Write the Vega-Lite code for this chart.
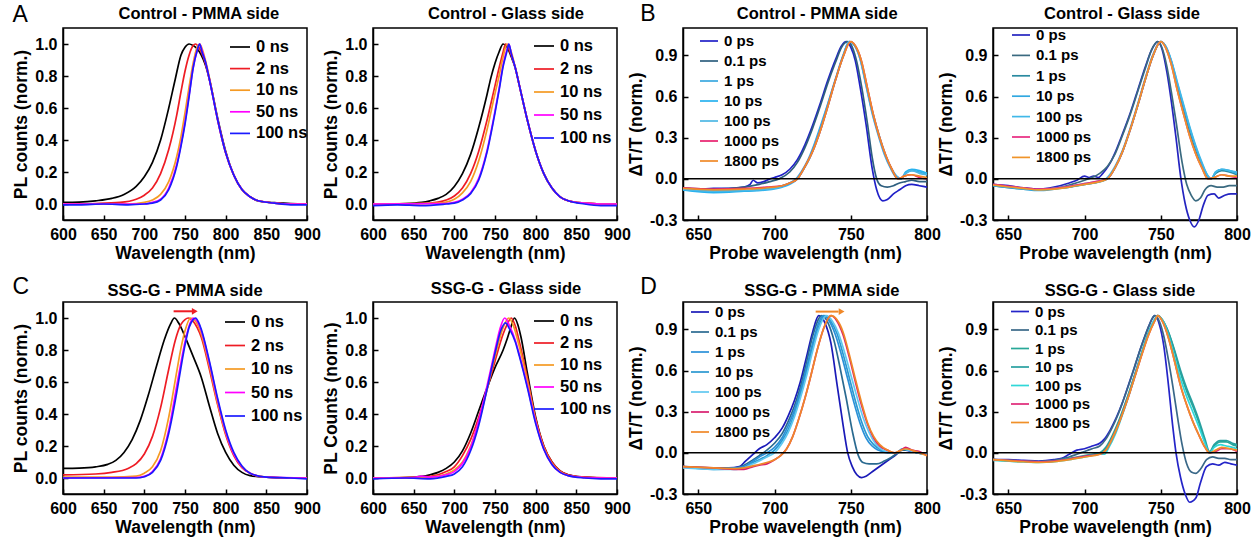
{
"$schema":"https://vega.github.io/schema/vega-lite/v6.json",
"padding":{"left":11,"top":2,"right":5,"bottom":5},
"config":{
 "font":"Liberation Sans",
 "view":{"stroke":"#000","strokeWidth":1.5},
 "axis":{"labelFont":"Liberation Sans","labelFontSize":16,"labelFontWeight":"bold","labelColor":"#000","titleFont":"Liberation Sans","titleFontSize":17.5,"titleFontWeight":"bold","titleColor":"#000","domainColor":"#000","domainWidth":1.5,"tickColor":"#000","tickWidth":1.5,"tickSize":-5,"labelPadding":11,"grid":false,"labelFlush":false,"labelOverlap":false,"labelBound":false},
 "axisY":{"titlePadding":4},
 "axisX":{"titlePadding":2},
 "legend":{"labelFont":"Liberation Sans","labelFontWeight":"bold","labelColor":"#000","symbolType":"stroke","symbolStrokeWidth":2,"labelOffset":5,"padding":0,"orient":"none","direction":"vertical"},
 "line":{"interpolate":"monotone","strokeWidth":1.7,"clip":true},
 "text":{"font":"Liberation Sans","color":"#000"}
},
"datasets":{
"a1":[
{"s":"0 ns","x":600,"y":0.01},{"s":"0 ns","x":620,"y":0.012},{"s":"0 ns","x":640,"y":0.02},{"s":"0 ns","x":660,"y":0.035},{"s":"0 ns","x":675,"y":0.06},{"s":"0 ns","x":690,"y":0.11},{"s":"0 ns","x":700,"y":0.17},{"s":"0 ns","x":710,"y":0.26},{"s":"0 ns","x":720,"y":0.4},{"s":"0 ns","x":730,"y":0.6},{"s":"0 ns","x":738,"y":0.78},{"s":"0 ns","x":745,"y":0.93},{"s":"0 ns","x":750,"y":0.98},{"s":"0 ns","x":755,"y":1},{"s":"0 ns","x":760,"y":0.99},{"s":"0 ns","x":765,"y":0.97},{"s":"0 ns","x":770,"y":0.93},{"s":"0 ns","x":775,"y":0.87},{"s":"0 ns","x":780,"y":0.78},{"s":"0 ns","x":790,"y":0.54},{"s":"0 ns","x":800,"y":0.33},{"s":"0 ns","x":810,"y":0.18},{"s":"0 ns","x":820,"y":0.09},{"s":"0 ns","x":830,"y":0.045},{"s":"0 ns","x":840,"y":0.02},{"s":"0 ns","x":860,"y":0.008},{"s":"0 ns","x":880,"y":0.003},{"s":"0 ns","x":900,"y":0},
{"s":"2 ns","x":600,"y":0},{"s":"2 ns","x":640,"y":0.003},{"s":"2 ns","x":670,"y":0.01},{"s":"2 ns","x":690,"y":0.03},{"s":"2 ns","x":700,"y":0.055},{"s":"2 ns","x":710,"y":0.1},{"s":"2 ns","x":720,"y":0.19},{"s":"2 ns","x":730,"y":0.34},{"s":"2 ns","x":740,"y":0.56},{"s":"2 ns","x":745,"y":0.7},{"s":"2 ns","x":750,"y":0.83},{"s":"2 ns","x":755,"y":0.93},{"s":"2 ns","x":760,"y":0.99},{"s":"2 ns","x":763,"y":1},{"s":"2 ns","x":767,"y":0.98},{"s":"2 ns","x":770,"y":0.95},{"s":"2 ns","x":775,"y":0.88},{"s":"2 ns","x":780,"y":0.78},{"s":"2 ns","x":790,"y":0.53},{"s":"2 ns","x":800,"y":0.32},{"s":"2 ns","x":810,"y":0.18},{"s":"2 ns","x":820,"y":0.09},{"s":"2 ns","x":830,"y":0.045},{"s":"2 ns","x":840,"y":0.02},{"s":"2 ns","x":860,"y":0.006},{"s":"2 ns","x":880,"y":0},{"s":"2 ns","x":900,"y":0},
{"s":"10 ns","x":600,"y":0},{"s":"10 ns","x":680,"y":0},{"s":"10 ns","x":700,"y":0.01},{"s":"10 ns","x":710,"y":0.025},{"s":"10 ns","x":720,"y":0.06},{"s":"10 ns","x":730,"y":0.14},{"s":"10 ns","x":740,"y":0.3},{"s":"10 ns","x":745,"y":0.42},{"s":"10 ns","x":750,"y":0.57},{"s":"10 ns","x":755,"y":0.73},{"s":"10 ns","x":760,"y":0.88},{"s":"10 ns","x":765,"y":0.98},{"s":"10 ns","x":768,"y":1},{"s":"10 ns","x":771,"y":0.97},{"s":"10 ns","x":775,"y":0.9},{"s":"10 ns","x":780,"y":0.79},{"s":"10 ns","x":790,"y":0.53},{"s":"10 ns","x":800,"y":0.32},{"s":"10 ns","x":810,"y":0.18},{"s":"10 ns","x":820,"y":0.09},{"s":"10 ns","x":830,"y":0.045},{"s":"10 ns","x":840,"y":0.02},{"s":"10 ns","x":860,"y":0.006},{"s":"10 ns","x":880,"y":0},{"s":"10 ns","x":900,"y":0},
{"s":"50 ns","x":600,"y":0},{"s":"50 ns","x":700,"y":0},{"s":"50 ns","x":710,"y":0.01},{"s":"50 ns","x":720,"y":0.03},{"s":"50 ns","x":730,"y":0.1},{"s":"50 ns","x":740,"y":0.25},{"s":"50 ns","x":745,"y":0.37},{"s":"50 ns","x":750,"y":0.51},{"s":"50 ns","x":755,"y":0.68},{"s":"50 ns","x":760,"y":0.85},{"s":"50 ns","x":765,"y":0.96},{"s":"50 ns","x":768,"y":1},{"s":"50 ns","x":771,"y":0.96},{"s":"50 ns","x":775,"y":0.89},{"s":"50 ns","x":780,"y":0.78},{"s":"50 ns","x":790,"y":0.53},{"s":"50 ns","x":800,"y":0.32},{"s":"50 ns","x":810,"y":0.18},{"s":"50 ns","x":820,"y":0.09},{"s":"50 ns","x":830,"y":0.045},{"s":"50 ns","x":840,"y":0.02},{"s":"50 ns","x":860,"y":0.006},{"s":"50 ns","x":880,"y":0},{"s":"50 ns","x":900,"y":0},
{"s":"100 ns","x":600,"y":-0.005},{"s":"100 ns","x":620,"y":-0.005},{"s":"100 ns","x":650,"y":0},{"s":"100 ns","x":680,"y":-0.005},{"s":"100 ns","x":700,"y":0},{"s":"100 ns","x":710,"y":0.005},{"s":"100 ns","x":720,"y":0.025},{"s":"100 ns","x":730,"y":0.09},{"s":"100 ns","x":740,"y":0.24},{"s":"100 ns","x":745,"y":0.36},{"s":"100 ns","x":750,"y":0.5},{"s":"100 ns","x":755,"y":0.67},{"s":"100 ns","x":760,"y":0.85},{"s":"100 ns","x":765,"y":0.96},{"s":"100 ns","x":768,"y":1},{"s":"100 ns","x":771,"y":0.95},{"s":"100 ns","x":775,"y":0.89},{"s":"100 ns","x":780,"y":0.78},{"s":"100 ns","x":790,"y":0.53},{"s":"100 ns","x":800,"y":0.32},{"s":"100 ns","x":810,"y":0.18},{"s":"100 ns","x":820,"y":0.09},{"s":"100 ns","x":830,"y":0.045},{"s":"100 ns","x":840,"y":0.02},{"s":"100 ns","x":860,"y":0.005},{"s":"100 ns","x":880,"y":-0.005},{"s":"100 ns","x":900,"y":-0.005}
],
"a2":[
{"s":"0 ns","x":600,"y":0},{"s":"0 ns","x":640,"y":0.003},{"s":"0 ns","x":660,"y":0.01},{"s":"0 ns","x":670,"y":0.02},{"s":"0 ns","x":680,"y":0.035},{"s":"0 ns","x":690,"y":0.06},{"s":"0 ns","x":700,"y":0.11},{"s":"0 ns","x":710,"y":0.19},{"s":"0 ns","x":720,"y":0.31},{"s":"0 ns","x":730,"y":0.48},{"s":"0 ns","x":740,"y":0.68},{"s":"0 ns","x":745,"y":0.79},{"s":"0 ns","x":750,"y":0.88},{"s":"0 ns","x":755,"y":0.95},{"s":"0 ns","x":760,"y":1},{"s":"0 ns","x":765,"y":0.98},{"s":"0 ns","x":770,"y":0.92},{"s":"0 ns","x":775,"y":0.85},{"s":"0 ns","x":780,"y":0.74},{"s":"0 ns","x":790,"y":0.52},{"s":"0 ns","x":800,"y":0.33},{"s":"0 ns","x":810,"y":0.19},{"s":"0 ns","x":820,"y":0.1},{"s":"0 ns","x":830,"y":0.045},{"s":"0 ns","x":840,"y":0.02},{"s":"0 ns","x":860,"y":0.005},{"s":"0 ns","x":880,"y":0},{"s":"0 ns","x":900,"y":0},
{"s":"2 ns","x":600,"y":0},{"s":"2 ns","x":660,"y":0.003},{"s":"2 ns","x":680,"y":0.012},{"s":"2 ns","x":690,"y":0.025},{"s":"2 ns","x":700,"y":0.05},{"s":"2 ns","x":710,"y":0.1},{"s":"2 ns","x":720,"y":0.19},{"s":"2 ns","x":730,"y":0.33},{"s":"2 ns","x":740,"y":0.52},{"s":"2 ns","x":750,"y":0.74},{"s":"2 ns","x":755,"y":0.85},{"s":"2 ns","x":760,"y":0.95},{"s":"2 ns","x":763,"y":1},{"s":"2 ns","x":767,"y":0.97},{"s":"2 ns","x":770,"y":0.93},{"s":"2 ns","x":775,"y":0.85},{"s":"2 ns","x":780,"y":0.74},{"s":"2 ns","x":790,"y":0.52},{"s":"2 ns","x":800,"y":0.33},{"s":"2 ns","x":810,"y":0.19},{"s":"2 ns","x":820,"y":0.1},{"s":"2 ns","x":830,"y":0.045},{"s":"2 ns","x":840,"y":0.02},{"s":"2 ns","x":860,"y":0.005},{"s":"2 ns","x":880,"y":0},{"s":"2 ns","x":900,"y":0},
{"s":"10 ns","x":600,"y":0},{"s":"10 ns","x":680,"y":0.005},{"s":"10 ns","x":690,"y":0.012},{"s":"10 ns","x":700,"y":0.03},{"s":"10 ns","x":710,"y":0.07},{"s":"10 ns","x":720,"y":0.14},{"s":"10 ns","x":730,"y":0.27},{"s":"10 ns","x":740,"y":0.46},{"s":"10 ns","x":750,"y":0.69},{"s":"10 ns","x":755,"y":0.8},{"s":"10 ns","x":760,"y":0.92},{"s":"10 ns","x":765,"y":1},{"s":"10 ns","x":770,"y":0.95},{"s":"10 ns","x":775,"y":0.85},{"s":"10 ns","x":780,"y":0.74},{"s":"10 ns","x":790,"y":0.52},{"s":"10 ns","x":800,"y":0.33},{"s":"10 ns","x":810,"y":0.19},{"s":"10 ns","x":820,"y":0.1},{"s":"10 ns","x":830,"y":0.045},{"s":"10 ns","x":840,"y":0.02},{"s":"10 ns","x":860,"y":0.005},{"s":"10 ns","x":880,"y":0},{"s":"10 ns","x":900,"y":0},
{"s":"50 ns","x":600,"y":0},{"s":"50 ns","x":690,"y":0.003},{"s":"50 ns","x":700,"y":0.01},{"s":"50 ns","x":710,"y":0.03},{"s":"50 ns","x":720,"y":0.07},{"s":"50 ns","x":730,"y":0.16},{"s":"50 ns","x":740,"y":0.33},{"s":"50 ns","x":750,"y":0.58},{"s":"50 ns","x":755,"y":0.72},{"s":"50 ns","x":760,"y":0.87},{"s":"50 ns","x":765,"y":0.97},{"s":"50 ns","x":767,"y":1},{"s":"50 ns","x":770,"y":0.94},{"s":"50 ns","x":775,"y":0.85},{"s":"50 ns","x":780,"y":0.74},{"s":"50 ns","x":790,"y":0.52},{"s":"50 ns","x":800,"y":0.33},{"s":"50 ns","x":810,"y":0.19},{"s":"50 ns","x":820,"y":0.1},{"s":"50 ns","x":830,"y":0.045},{"s":"50 ns","x":840,"y":0.02},{"s":"50 ns","x":860,"y":0.005},{"s":"50 ns","x":880,"y":0},{"s":"50 ns","x":900,"y":0},
{"s":"100 ns","x":600,"y":-0.01},{"s":"100 ns","x":630,"y":-0.005},{"s":"100 ns","x":660,"y":-0.01},{"s":"100 ns","x":690,"y":0},{"s":"100 ns","x":700,"y":0.005},{"s":"100 ns","x":710,"y":0.025},{"s":"100 ns","x":720,"y":0.065},{"s":"100 ns","x":730,"y":0.15},{"s":"100 ns","x":740,"y":0.32},{"s":"100 ns","x":750,"y":0.57},{"s":"100 ns","x":755,"y":0.71},{"s":"100 ns","x":760,"y":0.86},{"s":"100 ns","x":765,"y":0.96},{"s":"100 ns","x":767,"y":1},{"s":"100 ns","x":770,"y":0.94},{"s":"100 ns","x":775,"y":0.85},{"s":"100 ns","x":780,"y":0.74},{"s":"100 ns","x":790,"y":0.52},{"s":"100 ns","x":800,"y":0.33},{"s":"100 ns","x":810,"y":0.19},{"s":"100 ns","x":820,"y":0.1},{"s":"100 ns","x":830,"y":0.045},{"s":"100 ns","x":840,"y":0.02},{"s":"100 ns","x":860,"y":0},{"s":"100 ns","x":880,"y":-0.01},{"s":"100 ns","x":900,"y":-0.01}
],
"c1":[
{"s":"0 ns","x":600,"y":0.06},{"s":"0 ns","x":620,"y":0.062},{"s":"0 ns","x":640,"y":0.07},{"s":"0 ns","x":655,"y":0.085},{"s":"0 ns","x":665,"y":0.11},{"s":"0 ns","x":675,"y":0.16},{"s":"0 ns","x":685,"y":0.24},{"s":"0 ns","x":695,"y":0.36},{"s":"0 ns","x":705,"y":0.52},{"s":"0 ns","x":715,"y":0.7},{"s":"0 ns","x":725,"y":0.87},{"s":"0 ns","x":732,"y":0.96},{"s":"0 ns","x":737,"y":1},{"s":"0 ns","x":742,"y":0.97},{"s":"0 ns","x":747,"y":0.92},{"s":"0 ns","x":752,"y":0.86},{"s":"0 ns","x":760,"y":0.76},{"s":"0 ns","x":770,"y":0.63},{"s":"0 ns","x":780,"y":0.45},{"s":"0 ns","x":790,"y":0.28},{"s":"0 ns","x":800,"y":0.16},{"s":"0 ns","x":810,"y":0.08},{"s":"0 ns","x":820,"y":0.035},{"s":"0 ns","x":830,"y":0.015},{"s":"0 ns","x":850,"y":0.005},{"s":"0 ns","x":870,"y":0},{"s":"0 ns","x":900,"y":0},
{"s":"2 ns","x":600,"y":0.02},{"s":"2 ns","x":640,"y":0.025},{"s":"2 ns","x":660,"y":0.035},{"s":"2 ns","x":680,"y":0.06},{"s":"2 ns","x":690,"y":0.09},{"s":"2 ns","x":700,"y":0.15},{"s":"2 ns","x":710,"y":0.26},{"s":"2 ns","x":720,"y":0.44},{"s":"2 ns","x":730,"y":0.68},{"s":"2 ns","x":738,"y":0.86},{"s":"2 ns","x":745,"y":0.96},{"s":"2 ns","x":750,"y":0.99},{"s":"2 ns","x":754,"y":1},{"s":"2 ns","x":760,"y":0.98},{"s":"2 ns","x":765,"y":0.94},{"s":"2 ns","x":770,"y":0.88},{"s":"2 ns","x":780,"y":0.68},{"s":"2 ns","x":790,"y":0.46},{"s":"2 ns","x":800,"y":0.27},{"s":"2 ns","x":810,"y":0.14},{"s":"2 ns","x":820,"y":0.065},{"s":"2 ns","x":830,"y":0.03},{"s":"2 ns","x":840,"y":0.012},{"s":"2 ns","x":860,"y":0.003},{"s":"2 ns","x":880,"y":0},{"s":"2 ns","x":900,"y":0},
{"s":"10 ns","x":600,"y":0.005},{"s":"10 ns","x":660,"y":0.005},{"s":"10 ns","x":690,"y":0.012},{"s":"10 ns","x":700,"y":0.03},{"s":"10 ns","x":710,"y":0.07},{"s":"10 ns","x":720,"y":0.17},{"s":"10 ns","x":730,"y":0.38},{"s":"10 ns","x":740,"y":0.67},{"s":"10 ns","x":745,"y":0.81},{"s":"10 ns","x":750,"y":0.92},{"s":"10 ns","x":757,"y":1},{"s":"10 ns","x":763,"y":0.98},{"s":"10 ns","x":770,"y":0.9},{"s":"10 ns","x":780,"y":0.7},{"s":"10 ns","x":790,"y":0.47},{"s":"10 ns","x":800,"y":0.28},{"s":"10 ns","x":810,"y":0.15},{"s":"10 ns","x":820,"y":0.07},{"s":"10 ns","x":830,"y":0.03},{"s":"10 ns","x":840,"y":0.012},{"s":"10 ns","x":860,"y":0.003},{"s":"10 ns","x":900,"y":0},
{"s":"50 ns","x":600,"y":0},{"s":"50 ns","x":690,"y":0.003},{"s":"50 ns","x":700,"y":0.01},{"s":"50 ns","x":710,"y":0.04},{"s":"50 ns","x":720,"y":0.12},{"s":"50 ns","x":730,"y":0.3},{"s":"50 ns","x":740,"y":0.58},{"s":"50 ns","x":745,"y":0.72},{"s":"50 ns","x":750,"y":0.85},{"s":"50 ns","x":755,"y":0.95},{"s":"50 ns","x":760,"y":1},{"s":"50 ns","x":765,"y":0.98},{"s":"50 ns","x":770,"y":0.92},{"s":"50 ns","x":780,"y":0.72},{"s":"50 ns","x":790,"y":0.49},{"s":"50 ns","x":800,"y":0.29},{"s":"50 ns","x":810,"y":0.15},{"s":"50 ns","x":820,"y":0.07},{"s":"50 ns","x":830,"y":0.03},{"s":"50 ns","x":850,"y":0.005},{"s":"50 ns","x":900,"y":0},
{"s":"100 ns","x":600,"y":0},{"s":"100 ns","x":650,"y":0},{"s":"100 ns","x":690,"y":0},{"s":"100 ns","x":700,"y":0.008},{"s":"100 ns","x":710,"y":0.035},{"s":"100 ns","x":720,"y":0.11},{"s":"100 ns","x":730,"y":0.28},{"s":"100 ns","x":740,"y":0.54},{"s":"100 ns","x":745,"y":0.69},{"s":"100 ns","x":750,"y":0.83},{"s":"100 ns","x":755,"y":0.94},{"s":"100 ns","x":760,"y":0.99},{"s":"100 ns","x":763,"y":1},{"s":"100 ns","x":767,"y":0.97},{"s":"100 ns","x":770,"y":0.93},{"s":"100 ns","x":780,"y":0.73},{"s":"100 ns","x":790,"y":0.5},{"s":"100 ns","x":800,"y":0.3},{"s":"100 ns","x":810,"y":0.16},{"s":"100 ns","x":820,"y":0.075},{"s":"100 ns","x":830,"y":0.03},{"s":"100 ns","x":850,"y":0.005},{"s":"100 ns","x":880,"y":0},{"s":"100 ns","x":900,"y":-0.005}
],
"c2":[
{"s":"0 ns","x":600,"y":0},{"s":"0 ns","x":640,"y":0.003},{"s":"0 ns","x":660,"y":0.01},{"s":"0 ns","x":670,"y":0.02},{"s":"0 ns","x":680,"y":0.035},{"s":"0 ns","x":690,"y":0.06},{"s":"0 ns","x":700,"y":0.1},{"s":"0 ns","x":710,"y":0.17},{"s":"0 ns","x":720,"y":0.28},{"s":"0 ns","x":730,"y":0.42},{"s":"0 ns","x":740,"y":0.56},{"s":"0 ns","x":750,"y":0.69},{"s":"0 ns","x":760,"y":0.8},{"s":"0 ns","x":765,"y":0.87},{"s":"0 ns","x":770,"y":0.95},{"s":"0 ns","x":774,"y":1},{"s":"0 ns","x":778,"y":0.96},{"s":"0 ns","x":782,"y":0.88},{"s":"0 ns","x":790,"y":0.65},{"s":"0 ns","x":800,"y":0.38},{"s":"0 ns","x":810,"y":0.2},{"s":"0 ns","x":820,"y":0.1},{"s":"0 ns","x":830,"y":0.045},{"s":"0 ns","x":840,"y":0.02},{"s":"0 ns","x":860,"y":0.005},{"s":"0 ns","x":880,"y":0},{"s":"0 ns","x":900,"y":0},
{"s":"2 ns","x":600,"y":0},{"s":"2 ns","x":660,"y":0.005},{"s":"2 ns","x":680,"y":0.02},{"s":"2 ns","x":690,"y":0.04},{"s":"2 ns","x":700,"y":0.07},{"s":"2 ns","x":710,"y":0.14},{"s":"2 ns","x":720,"y":0.24},{"s":"2 ns","x":730,"y":0.38},{"s":"2 ns","x":740,"y":0.55},{"s":"2 ns","x":750,"y":0.73},{"s":"2 ns","x":760,"y":0.9},{"s":"2 ns","x":765,"y":0.96},{"s":"2 ns","x":770,"y":1},{"s":"2 ns","x":775,"y":0.95},{"s":"2 ns","x":780,"y":0.85},{"s":"2 ns","x":790,"y":0.62},{"s":"2 ns","x":800,"y":0.37},{"s":"2 ns","x":810,"y":0.2},{"s":"2 ns","x":820,"y":0.1},{"s":"2 ns","x":830,"y":0.045},{"s":"2 ns","x":840,"y":0.02},{"s":"2 ns","x":860,"y":0.005},{"s":"2 ns","x":900,"y":0},
{"s":"10 ns","x":600,"y":0},{"s":"10 ns","x":670,"y":0.005},{"s":"10 ns","x":690,"y":0.025},{"s":"10 ns","x":700,"y":0.05},{"s":"10 ns","x":710,"y":0.1},{"s":"10 ns","x":720,"y":0.2},{"s":"10 ns","x":730,"y":0.35},{"s":"10 ns","x":740,"y":0.55},{"s":"10 ns","x":750,"y":0.76},{"s":"10 ns","x":760,"y":0.94},{"s":"10 ns","x":767,"y":1},{"s":"10 ns","x":772,"y":0.96},{"s":"10 ns","x":780,"y":0.82},{"s":"10 ns","x":790,"y":0.6},{"s":"10 ns","x":800,"y":0.36},{"s":"10 ns","x":810,"y":0.19},{"s":"10 ns","x":820,"y":0.09},{"s":"10 ns","x":830,"y":0.04},{"s":"10 ns","x":840,"y":0.015},{"s":"10 ns","x":860,"y":0.003},{"s":"10 ns","x":900,"y":0},
{"s":"50 ns","x":600,"y":0},{"s":"50 ns","x":650,"y":0.003},{"s":"50 ns","x":660,"y":0.012},{"s":"50 ns","x":670,"y":0.005},{"s":"50 ns","x":690,"y":0.02},{"s":"50 ns","x":700,"y":0.04},{"s":"50 ns","x":710,"y":0.09},{"s":"50 ns","x":720,"y":0.19},{"s":"50 ns","x":730,"y":0.36},{"s":"50 ns","x":740,"y":0.57},{"s":"50 ns","x":750,"y":0.8},{"s":"50 ns","x":756,"y":0.93},{"s":"50 ns","x":762,"y":1},{"s":"50 ns","x":768,"y":0.95},{"s":"50 ns","x":775,"y":0.86},{"s":"50 ns","x":780,"y":0.77},{"s":"50 ns","x":790,"y":0.57},{"s":"50 ns","x":800,"y":0.35},{"s":"50 ns","x":810,"y":0.18},{"s":"50 ns","x":820,"y":0.085},{"s":"50 ns","x":830,"y":0.035},{"s":"50 ns","x":840,"y":0.015},{"s":"50 ns","x":860,"y":0.003},{"s":"50 ns","x":900,"y":0},
{"s":"100 ns","x":600,"y":-0.005},{"s":"100 ns","x":640,"y":0},{"s":"100 ns","x":670,"y":-0.005},{"s":"100 ns","x":690,"y":0.01},{"s":"100 ns","x":700,"y":0.025},{"s":"100 ns","x":710,"y":0.07},{"s":"100 ns","x":720,"y":0.17},{"s":"100 ns","x":730,"y":0.33},{"s":"100 ns","x":740,"y":0.55},{"s":"100 ns","x":750,"y":0.78},{"s":"100 ns","x":757,"y":0.92},{"s":"100 ns","x":763,"y":0.97},{"s":"100 ns","x":768,"y":0.93},{"s":"100 ns","x":775,"y":0.85},{"s":"100 ns","x":780,"y":0.76},{"s":"100 ns","x":790,"y":0.56},{"s":"100 ns","x":800,"y":0.34},{"s":"100 ns","x":810,"y":0.18},{"s":"100 ns","x":820,"y":0.085},{"s":"100 ns","x":830,"y":0.035},{"s":"100 ns","x":840,"y":0.015},{"s":"100 ns","x":860,"y":0},{"s":"100 ns","x":880,"y":-0.005},{"s":"100 ns","x":900,"y":-0.005}
],
"b1":[
{"s":"0 ps","x":640,"y":-0.07},{"s":"0 ps","x":650,"y":-0.075},{"s":"0 ps","x":660,"y":-0.07},{"s":"0 ps","x":670,"y":-0.07},{"s":"0 ps","x":680,"y":-0.06},{"s":"0 ps","x":684,"y":-0.04},{"s":"0 ps","x":686,"y":-0.01},{"s":"0 ps","x":689,"y":-0.03},{"s":"0 ps","x":693,"y":-0.02},{"s":"0 ps","x":697,"y":0},{"s":"0 ps","x":700,"y":0.01},{"s":"0 ps","x":705,"y":0.03},{"s":"0 ps","x":710,"y":0.07},{"s":"0 ps","x":715,"y":0.14},{"s":"0 ps","x":720,"y":0.25},{"s":"0 ps","x":725,"y":0.39},{"s":"0 ps","x":730,"y":0.55},{"s":"0 ps","x":735,"y":0.72},{"s":"0 ps","x":740,"y":0.87},{"s":"0 ps","x":744,"y":0.97},{"s":"0 ps","x":747,"y":1},{"s":"0 ps","x":750,"y":0.96},{"s":"0 ps","x":753,"y":0.86},{"s":"0 ps","x":756,"y":0.68},{"s":"0 ps","x":760,"y":0.4},{"s":"0 ps","x":764,"y":0.08},{"s":"0 ps","x":767,"y":-0.08},{"s":"0 ps","x":771,"y":-0.16},{"s":"0 ps","x":774,"y":-0.15},{"s":"0 ps","x":778,"y":-0.11},{"s":"0 ps","x":782,"y":-0.08},{"s":"0 ps","x":786,"y":-0.05},{"s":"0 ps","x":790,"y":-0.04},{"s":"0 ps","x":795,"y":-0.05},{"s":"0 ps","x":800,"y":-0.06},
{"s":"0.1 ps","x":640,"y":-0.07},{"s":"0.1 ps","x":660,"y":-0.075},{"s":"0.1 ps","x":680,"y":-0.06},{"s":"0.1 ps","x":690,"y":-0.04},{"s":"0.1 ps","x":697,"y":-0.02},{"s":"0.1 ps","x":703,"y":0},{"s":"0.1 ps","x":710,"y":0.05},{"s":"0.1 ps","x":715,"y":0.12},{"s":"0.1 ps","x":720,"y":0.23},{"s":"0.1 ps","x":725,"y":0.37},{"s":"0.1 ps","x":730,"y":0.53},{"s":"0.1 ps","x":735,"y":0.7},{"s":"0.1 ps","x":740,"y":0.85},{"s":"0.1 ps","x":744,"y":0.96},{"s":"0.1 ps","x":748,"y":1},{"s":"0.1 ps","x":751,"y":0.96},{"s":"0.1 ps","x":754,"y":0.85},{"s":"0.1 ps","x":757,"y":0.68},{"s":"0.1 ps","x":761,"y":0.4},{"s":"0.1 ps","x":764,"y":0.16},{"s":"0.1 ps","x":767,"y":0},{"s":"0.1 ps","x":770,"y":-0.05},{"s":"0.1 ps","x":774,"y":-0.06},{"s":"0.1 ps","x":778,"y":-0.05},{"s":"0.1 ps","x":782,"y":-0.03},{"s":"0.1 ps","x":786,"y":-0.02},{"s":"0.1 ps","x":790,"y":-0.01},{"s":"0.1 ps","x":795,"y":-0.02},{"s":"0.1 ps","x":800,"y":-0.02},
{"s":"1 ps","x":640,"y":-0.08},{"s":"1 ps","x":660,"y":-0.09},{"s":"1 ps","x":680,"y":-0.09},{"s":"1 ps","x":695,"y":-0.07},{"s":"1 ps","x":705,"y":-0.05},{"s":"1 ps","x":710,"y":-0.03},{"s":"1 ps","x":714,"y":0},{"s":"1 ps","x":718,"y":0.06},{"s":"1 ps","x":722,"y":0.14},{"s":"1 ps","x":726,"y":0.25},{"s":"1 ps","x":730,"y":0.38},{"s":"1 ps","x":735,"y":0.55},{"s":"1 ps","x":740,"y":0.73},{"s":"1 ps","x":745,"y":0.9},{"s":"1 ps","x":749,"y":1},{"s":"1 ps","x":752,"y":0.98},{"s":"1 ps","x":756,"y":0.88},{"s":"1 ps","x":760,"y":0.68},{"s":"1 ps","x":764,"y":0.48},{"s":"1 ps","x":768,"y":0.32},{"s":"1 ps","x":772,"y":0.18},{"s":"1 ps","x":776,"y":0.08},{"s":"1 ps","x":780,"y":0.01},{"s":"1 ps","x":783,"y":0},{"s":"1 ps","x":786,"y":0.04},{"s":"1 ps","x":790,"y":0.06},{"s":"1 ps","x":795,"y":0.05},{"s":"1 ps","x":800,"y":0.03},
{"s":"10 ps","x":640,"y":-0.08},{"s":"10 ps","x":660,"y":-0.1},{"s":"10 ps","x":680,"y":-0.09},{"s":"10 ps","x":695,"y":-0.08},{"s":"10 ps","x":705,"y":-0.06},{"s":"10 ps","x":710,"y":-0.04},{"s":"10 ps","x":715,"y":0},{"s":"10 ps","x":719,"y":0.07},{"s":"10 ps","x":723,"y":0.15},{"s":"10 ps","x":727,"y":0.27},{"s":"10 ps","x":731,"y":0.4},{"s":"10 ps","x":736,"y":0.58},{"s":"10 ps","x":741,"y":0.76},{"s":"10 ps","x":745,"y":0.9},{"s":"10 ps","x":749,"y":1},{"s":"10 ps","x":752,"y":0.98},{"s":"10 ps","x":756,"y":0.89},{"s":"10 ps","x":760,"y":0.7},{"s":"10 ps","x":764,"y":0.5},{"s":"10 ps","x":768,"y":0.34},{"s":"10 ps","x":772,"y":0.2},{"s":"10 ps","x":776,"y":0.09},{"s":"10 ps","x":780,"y":0.02},{"s":"10 ps","x":783,"y":0},{"s":"10 ps","x":786,"y":0.05},{"s":"10 ps","x":790,"y":0.07},{"s":"10 ps","x":795,"y":0.06},{"s":"10 ps","x":800,"y":0.04},
{"s":"100 ps","x":640,"y":-0.075},{"s":"100 ps","x":660,"y":-0.09},{"s":"100 ps","x":680,"y":-0.085},{"s":"100 ps","x":695,"y":-0.075},{"s":"100 ps","x":705,"y":-0.055},{"s":"100 ps","x":712,"y":-0.02},{"s":"100 ps","x":715,"y":0},{"s":"100 ps","x":720,"y":0.09},{"s":"100 ps","x":725,"y":0.2},{"s":"100 ps","x":730,"y":0.35},{"s":"100 ps","x":735,"y":0.53},{"s":"100 ps","x":740,"y":0.72},{"s":"100 ps","x":745,"y":0.89},{"s":"100 ps","x":749,"y":1},{"s":"100 ps","x":752,"y":0.98},{"s":"100 ps","x":756,"y":0.88},{"s":"100 ps","x":760,"y":0.69},{"s":"100 ps","x":764,"y":0.49},{"s":"100 ps","x":768,"y":0.33},{"s":"100 ps","x":772,"y":0.19},{"s":"100 ps","x":776,"y":0.09},{"s":"100 ps","x":780,"y":0.02},{"s":"100 ps","x":783,"y":0},{"s":"100 ps","x":786,"y":0.04},{"s":"100 ps","x":790,"y":0.06},{"s":"100 ps","x":795,"y":0.04},{"s":"100 ps","x":800,"y":0.03},
{"s":"1000 ps","x":640,"y":-0.065},{"s":"1000 ps","x":660,"y":-0.075},{"s":"1000 ps","x":680,"y":-0.07},{"s":"1000 ps","x":695,"y":-0.06},{"s":"1000 ps","x":705,"y":-0.05},{"s":"1000 ps","x":710,"y":-0.03},{"s":"1000 ps","x":715,"y":0},{"s":"1000 ps","x":720,"y":0.09},{"s":"1000 ps","x":725,"y":0.2},{"s":"1000 ps","x":730,"y":0.35},{"s":"1000 ps","x":735,"y":0.53},{"s":"1000 ps","x":740,"y":0.72},{"s":"1000 ps","x":745,"y":0.89},{"s":"1000 ps","x":750,"y":1},{"s":"1000 ps","x":753,"y":0.97},{"s":"1000 ps","x":757,"y":0.86},{"s":"1000 ps","x":761,"y":0.66},{"s":"1000 ps","x":765,"y":0.46},{"s":"1000 ps","x":769,"y":0.3},{"s":"1000 ps","x":773,"y":0.17},{"s":"1000 ps","x":777,"y":0.07},{"s":"1000 ps","x":781,"y":0},{"s":"1000 ps","x":785,"y":0.02},{"s":"1000 ps","x":790,"y":0.03},{"s":"1000 ps","x":795,"y":0.01},{"s":"1000 ps","x":800,"y":0},
{"s":"1800 ps","x":640,"y":-0.07},{"s":"1800 ps","x":660,"y":-0.08},{"s":"1800 ps","x":680,"y":-0.075},{"s":"1800 ps","x":695,"y":-0.065},{"s":"1800 ps","x":705,"y":-0.05},{"s":"1800 ps","x":710,"y":-0.03},{"s":"1800 ps","x":715,"y":0},{"s":"1800 ps","x":720,"y":0.09},{"s":"1800 ps","x":725,"y":0.2},{"s":"1800 ps","x":730,"y":0.35},{"s":"1800 ps","x":735,"y":0.53},{"s":"1800 ps","x":740,"y":0.72},{"s":"1800 ps","x":745,"y":0.89},{"s":"1800 ps","x":750,"y":1},{"s":"1800 ps","x":753,"y":0.97},{"s":"1800 ps","x":757,"y":0.86},{"s":"1800 ps","x":761,"y":0.66},{"s":"1800 ps","x":765,"y":0.46},{"s":"1800 ps","x":769,"y":0.3},{"s":"1800 ps","x":773,"y":0.17},{"s":"1800 ps","x":777,"y":0.07},{"s":"1800 ps","x":781,"y":0},{"s":"1800 ps","x":785,"y":0.02},{"s":"1800 ps","x":790,"y":0.03},{"s":"1800 ps","x":795,"y":0.02},{"s":"1800 ps","x":800,"y":0.01}
],
"b2":[
{"s":"0 ps","x":640,"y":-0.04},{"s":"0 ps","x":650,"y":-0.05},{"s":"0 ps","x":660,"y":-0.065},{"s":"0 ps","x":670,"y":-0.075},{"s":"0 ps","x":680,"y":-0.06},{"s":"0 ps","x":690,"y":-0.03},{"s":"0 ps","x":695,"y":-0.01},{"s":"0 ps","x":700,"y":0.02},{"s":"0 ps","x":703,"y":0.01},{"s":"0 ps","x":706,"y":0.02},{"s":"0 ps","x":709,"y":0.01},{"s":"0 ps","x":712,"y":0.04},{"s":"0 ps","x":716,"y":0.1},{"s":"0 ps","x":720,"y":0.19},{"s":"0 ps","x":725,"y":0.33},{"s":"0 ps","x":730,"y":0.48},{"s":"0 ps","x":735,"y":0.65},{"s":"0 ps","x":740,"y":0.82},{"s":"0 ps","x":744,"y":0.94},{"s":"0 ps","x":748,"y":1},{"s":"0 ps","x":751,"y":0.94},{"s":"0 ps","x":754,"y":0.78},{"s":"0 ps","x":757,"y":0.56},{"s":"0 ps","x":760,"y":0.3},{"s":"0 ps","x":763,"y":0.02},{"s":"0 ps","x":766,"y":-0.18},{"s":"0 ps","x":769,"y":-0.3},{"s":"0 ps","x":772,"y":-0.35},{"s":"0 ps","x":775,"y":-0.3},{"s":"0 ps","x":778,"y":-0.19},{"s":"0 ps","x":781,"y":-0.12},{"s":"0 ps","x":785,"y":-0.11},{"s":"0 ps","x":788,"y":-0.14},{"s":"0 ps","x":792,"y":-0.12},{"s":"0 ps","x":796,"y":-0.11},{"s":"0 ps","x":800,"y":-0.11},
{"s":"0.1 ps","x":640,"y":-0.045},{"s":"0.1 ps","x":660,"y":-0.07},{"s":"0.1 ps","x":670,"y":-0.08},{"s":"0.1 ps","x":680,"y":-0.07},{"s":"0.1 ps","x":690,"y":-0.045},{"s":"0.1 ps","x":700,"y":-0.01},{"s":"0.1 ps","x":705,"y":0.01},{"s":"0.1 ps","x":710,"y":0.04},{"s":"0.1 ps","x":715,"y":0.09},{"s":"0.1 ps","x":720,"y":0.18},{"s":"0.1 ps","x":725,"y":0.32},{"s":"0.1 ps","x":730,"y":0.47},{"s":"0.1 ps","x":735,"y":0.64},{"s":"0.1 ps","x":740,"y":0.81},{"s":"0.1 ps","x":744,"y":0.94},{"s":"0.1 ps","x":748,"y":1},{"s":"0.1 ps","x":751,"y":0.95},{"s":"0.1 ps","x":754,"y":0.82},{"s":"0.1 ps","x":757,"y":0.63},{"s":"0.1 ps","x":760,"y":0.42},{"s":"0.1 ps","x":764,"y":0.12},{"s":"0.1 ps","x":767,"y":-0.04},{"s":"0.1 ps","x":770,"y":-0.12},{"s":"0.1 ps","x":773,"y":-0.16},{"s":"0.1 ps","x":776,"y":-0.14},{"s":"0.1 ps","x":779,"y":-0.08},{"s":"0.1 ps","x":783,"y":-0.05},{"s":"0.1 ps","x":787,"y":-0.06},{"s":"0.1 ps","x":791,"y":-0.06},{"s":"0.1 ps","x":795,"y":-0.05},{"s":"0.1 ps","x":800,"y":-0.05},
{"s":"1 ps","x":640,"y":-0.05},{"s":"1 ps","x":660,"y":-0.075},{"s":"1 ps","x":670,"y":-0.08},{"s":"1 ps","x":680,"y":-0.07},{"s":"1 ps","x":690,"y":-0.06},{"s":"1 ps","x":700,"y":-0.04},{"s":"1 ps","x":710,"y":-0.02},{"s":"1 ps","x":715,"y":0},{"s":"1 ps","x":720,"y":0.08},{"s":"1 ps","x":725,"y":0.2},{"s":"1 ps","x":730,"y":0.36},{"s":"1 ps","x":735,"y":0.54},{"s":"1 ps","x":740,"y":0.73},{"s":"1 ps","x":745,"y":0.9},{"s":"1 ps","x":750,"y":1},{"s":"1 ps","x":753,"y":0.97},{"s":"1 ps","x":757,"y":0.85},{"s":"1 ps","x":761,"y":0.67},{"s":"1 ps","x":765,"y":0.5},{"s":"1 ps","x":769,"y":0.34},{"s":"1 ps","x":773,"y":0.2},{"s":"1 ps","x":777,"y":0.09},{"s":"1 ps","x":781,"y":0.01},{"s":"1 ps","x":783,"y":0},{"s":"1 ps","x":786,"y":0.04},{"s":"1 ps","x":790,"y":0.06},{"s":"1 ps","x":795,"y":0.05},{"s":"1 ps","x":800,"y":0.03},
{"s":"10 ps","x":640,"y":-0.05},{"s":"10 ps","x":660,"y":-0.075},{"s":"10 ps","x":670,"y":-0.085},{"s":"10 ps","x":680,"y":-0.075},{"s":"10 ps","x":690,"y":-0.06},{"s":"10 ps","x":700,"y":-0.04},{"s":"10 ps","x":710,"y":-0.02},{"s":"10 ps","x":715,"y":0},{"s":"10 ps","x":720,"y":0.08},{"s":"10 ps","x":725,"y":0.2},{"s":"10 ps","x":730,"y":0.36},{"s":"10 ps","x":735,"y":0.54},{"s":"10 ps","x":740,"y":0.73},{"s":"10 ps","x":745,"y":0.9},{"s":"10 ps","x":750,"y":1},{"s":"10 ps","x":753,"y":0.97},{"s":"10 ps","x":757,"y":0.86},{"s":"10 ps","x":761,"y":0.69},{"s":"10 ps","x":765,"y":0.53},{"s":"10 ps","x":769,"y":0.37},{"s":"10 ps","x":773,"y":0.23},{"s":"10 ps","x":777,"y":0.11},{"s":"10 ps","x":781,"y":0.02},{"s":"10 ps","x":783,"y":0},{"s":"10 ps","x":786,"y":0.05},{"s":"10 ps","x":790,"y":0.07},{"s":"10 ps","x":795,"y":0.06},{"s":"10 ps","x":800,"y":0.04},
{"s":"100 ps","x":640,"y":-0.045},{"s":"100 ps","x":660,"y":-0.07},{"s":"100 ps","x":670,"y":-0.08},{"s":"100 ps","x":680,"y":-0.07},{"s":"100 ps","x":690,"y":-0.055},{"s":"100 ps","x":700,"y":-0.035},{"s":"100 ps","x":710,"y":-0.015},{"s":"100 ps","x":714,"y":0},{"s":"100 ps","x":720,"y":0.09},{"s":"100 ps","x":725,"y":0.21},{"s":"100 ps","x":730,"y":0.37},{"s":"100 ps","x":735,"y":0.55},{"s":"100 ps","x":740,"y":0.74},{"s":"100 ps","x":745,"y":0.91},{"s":"100 ps","x":750,"y":1},{"s":"100 ps","x":753,"y":0.97},{"s":"100 ps","x":757,"y":0.86},{"s":"100 ps","x":761,"y":0.7},{"s":"100 ps","x":765,"y":0.54},{"s":"100 ps","x":769,"y":0.38},{"s":"100 ps","x":773,"y":0.24},{"s":"100 ps","x":777,"y":0.12},{"s":"100 ps","x":781,"y":0.02},{"s":"100 ps","x":783,"y":0},{"s":"100 ps","x":786,"y":0.05},{"s":"100 ps","x":790,"y":0.07},{"s":"100 ps","x":795,"y":0.06},{"s":"100 ps","x":800,"y":0.05},
{"s":"1000 ps","x":640,"y":-0.04},{"s":"1000 ps","x":660,"y":-0.065},{"s":"1000 ps","x":670,"y":-0.075},{"s":"1000 ps","x":680,"y":-0.07},{"s":"1000 ps","x":690,"y":-0.055},{"s":"1000 ps","x":700,"y":-0.035},{"s":"1000 ps","x":710,"y":-0.015},{"s":"1000 ps","x":715,"y":0},{"s":"1000 ps","x":720,"y":0.08},{"s":"1000 ps","x":725,"y":0.2},{"s":"1000 ps","x":730,"y":0.36},{"s":"1000 ps","x":735,"y":0.54},{"s":"1000 ps","x":740,"y":0.73},{"s":"1000 ps","x":745,"y":0.9},{"s":"1000 ps","x":750,"y":1},{"s":"1000 ps","x":753,"y":0.96},{"s":"1000 ps","x":757,"y":0.83},{"s":"1000 ps","x":761,"y":0.64},{"s":"1000 ps","x":765,"y":0.47},{"s":"1000 ps","x":769,"y":0.31},{"s":"1000 ps","x":773,"y":0.18},{"s":"1000 ps","x":777,"y":0.08},{"s":"1000 ps","x":781,"y":0},{"s":"1000 ps","x":785,"y":0.01},{"s":"1000 ps","x":790,"y":0.03},{"s":"1000 ps","x":795,"y":0.02},{"s":"1000 ps","x":800,"y":0.01},
{"s":"1800 ps","x":640,"y":-0.045},{"s":"1800 ps","x":660,"y":-0.07},{"s":"1800 ps","x":670,"y":-0.08},{"s":"1800 ps","x":680,"y":-0.075},{"s":"1800 ps","x":690,"y":-0.06},{"s":"1800 ps","x":700,"y":-0.04},{"s":"1800 ps","x":710,"y":-0.02},{"s":"1800 ps","x":715,"y":0},{"s":"1800 ps","x":720,"y":0.08},{"s":"1800 ps","x":725,"y":0.2},{"s":"1800 ps","x":730,"y":0.36},{"s":"1800 ps","x":735,"y":0.54},{"s":"1800 ps","x":740,"y":0.73},{"s":"1800 ps","x":745,"y":0.9},{"s":"1800 ps","x":750,"y":1},{"s":"1800 ps","x":753,"y":0.96},{"s":"1800 ps","x":757,"y":0.83},{"s":"1800 ps","x":761,"y":0.64},{"s":"1800 ps","x":765,"y":0.47},{"s":"1800 ps","x":769,"y":0.31},{"s":"1800 ps","x":773,"y":0.18},{"s":"1800 ps","x":777,"y":0.08},{"s":"1800 ps","x":781,"y":0},{"s":"1800 ps","x":785,"y":0.01},{"s":"1800 ps","x":790,"y":0.03},{"s":"1800 ps","x":795,"y":0.02},{"s":"1800 ps","x":800,"y":0.02}
],
"d1":[
{"s":"0 ps","x":640,"y":-0.1},{"s":"0 ps","x":650,"y":-0.105},{"s":"0 ps","x":660,"y":-0.11},{"s":"0 ps","x":670,"y":-0.11},{"s":"0 ps","x":677,"y":-0.1},{"s":"0 ps","x":681,"y":-0.06},{"s":"0 ps","x":686,"y":-0.01},{"s":"0 ps","x":690,"y":0.03},{"s":"0 ps","x":695,"y":0.06},{"s":"0 ps","x":700,"y":0.11},{"s":"0 ps","x":705,"y":0.18},{"s":"0 ps","x":709,"y":0.27},{"s":"0 ps","x":713,"y":0.38},{"s":"0 ps","x":717,"y":0.52},{"s":"0 ps","x":721,"y":0.7},{"s":"0 ps","x":725,"y":0.88},{"s":"0 ps","x":729,"y":1},{"s":"0 ps","x":733,"y":0.95},{"s":"0 ps","x":737,"y":0.8},{"s":"0 ps","x":741,"y":0.5},{"s":"0 ps","x":745,"y":0.2},{"s":"0 ps","x":748,"y":0},{"s":"0 ps","x":751,"y":-0.1},{"s":"0 ps","x":754,"y":-0.16},{"s":"0 ps","x":757,"y":-0.18},{"s":"0 ps","x":760,"y":-0.17},{"s":"0 ps","x":765,"y":-0.13},{"s":"0 ps","x":770,"y":-0.09},{"s":"0 ps","x":775,"y":-0.05},{"s":"0 ps","x":780,"y":-0.01},{"s":"0 ps","x":783,"y":0.02},{"s":"0 ps","x":786,"y":0.02},{"s":"0 ps","x":790,"y":0.01},{"s":"0 ps","x":795,"y":0},{"s":"0 ps","x":800,"y":-0.01},
{"s":"0.1 ps","x":640,"y":-0.1},{"s":"0.1 ps","x":660,"y":-0.115},{"s":"0.1 ps","x":675,"y":-0.11},{"s":"0.1 ps","x":680,"y":-0.09},{"s":"0.1 ps","x":686,"y":-0.05},{"s":"0.1 ps","x":690,"y":-0.02},{"s":"0.1 ps","x":695,"y":0.02},{"s":"0.1 ps","x":700,"y":0.07},{"s":"0.1 ps","x":705,"y":0.14},{"s":"0.1 ps","x":709,"y":0.23},{"s":"0.1 ps","x":713,"y":0.34},{"s":"0.1 ps","x":717,"y":0.48},{"s":"0.1 ps","x":721,"y":0.66},{"s":"0.1 ps","x":725,"y":0.85},{"s":"0.1 ps","x":731,"y":1},{"s":"0.1 ps","x":735,"y":0.95},{"s":"0.1 ps","x":739,"y":0.82},{"s":"0.1 ps","x":743,"y":0.62},{"s":"0.1 ps","x":747,"y":0.4},{"s":"0.1 ps","x":751,"y":0.16},{"s":"0.1 ps","x":755,"y":-0.02},{"s":"0.1 ps","x":758,"y":-0.07},{"s":"0.1 ps","x":762,"y":-0.08},{"s":"0.1 ps","x":767,"y":-0.08},{"s":"0.1 ps","x":772,"y":-0.06},{"s":"0.1 ps","x":777,"y":-0.03},{"s":"0.1 ps","x":781,"y":0},{"s":"0.1 ps","x":784,"y":0.02},{"s":"0.1 ps","x":788,"y":0.02},{"s":"0.1 ps","x":794,"y":0},{"s":"0.1 ps","x":800,"y":-0.01},
{"s":"1 ps","x":640,"y":-0.1},{"s":"1 ps","x":660,"y":-0.115},{"s":"1 ps","x":675,"y":-0.11},{"s":"1 ps","x":680,"y":-0.1},{"s":"1 ps","x":686,"y":-0.06},{"s":"1 ps","x":690,"y":-0.03},{"s":"1 ps","x":695,"y":0},{"s":"1 ps","x":700,"y":0.04},{"s":"1 ps","x":705,"y":0.11},{"s":"1 ps","x":709,"y":0.2},{"s":"1 ps","x":713,"y":0.31},{"s":"1 ps","x":717,"y":0.45},{"s":"1 ps","x":721,"y":0.62},{"s":"1 ps","x":725,"y":0.8},{"s":"1 ps","x":729,"y":0.95},{"s":"1 ps","x":732,"y":1},{"s":"1 ps","x":736,"y":0.96},{"s":"1 ps","x":740,"y":0.86},{"s":"1 ps","x":744,"y":0.71},{"s":"1 ps","x":748,"y":0.54},{"s":"1 ps","x":752,"y":0.37},{"s":"1 ps","x":756,"y":0.22},{"s":"1 ps","x":760,"y":0.11},{"s":"1 ps","x":764,"y":0.05},{"s":"1 ps","x":768,"y":0.02},{"s":"1 ps","x":774,"y":0},{"s":"1 ps","x":780,"y":0},{"s":"1 ps","x":784,"y":0.03},{"s":"1 ps","x":788,"y":0.02},{"s":"1 ps","x":794,"y":0},{"s":"1 ps","x":800,"y":-0.01},
{"s":"10 ps","x":640,"y":-0.1},{"s":"10 ps","x":660,"y":-0.12},{"s":"10 ps","x":675,"y":-0.115},{"s":"10 ps","x":680,"y":-0.11},{"s":"10 ps","x":686,"y":-0.07},{"s":"10 ps","x":690,"y":-0.05},{"s":"10 ps","x":695,"y":-0.02},{"s":"10 ps","x":700,"y":0.02},{"s":"10 ps","x":705,"y":0.09},{"s":"10 ps","x":709,"y":0.17},{"s":"10 ps","x":713,"y":0.28},{"s":"10 ps","x":717,"y":0.42},{"s":"10 ps","x":721,"y":0.59},{"s":"10 ps","x":725,"y":0.77},{"s":"10 ps","x":729,"y":0.92},{"s":"10 ps","x":733,"y":1},{"s":"10 ps","x":737,"y":0.96},{"s":"10 ps","x":741,"y":0.87},{"s":"10 ps","x":745,"y":0.72},{"s":"10 ps","x":749,"y":0.55},{"s":"10 ps","x":753,"y":0.38},{"s":"10 ps","x":757,"y":0.23},{"s":"10 ps","x":761,"y":0.12},{"s":"10 ps","x":765,"y":0.06},{"s":"10 ps","x":770,"y":0.02},{"s":"10 ps","x":776,"y":0},{"s":"10 ps","x":780,"y":0},{"s":"10 ps","x":784,"y":0.03},{"s":"10 ps","x":788,"y":0.02},{"s":"10 ps","x":794,"y":0},{"s":"10 ps","x":800,"y":-0.01},
{"s":"100 ps","x":640,"y":-0.11},{"s":"100 ps","x":660,"y":-0.12},{"s":"100 ps","x":675,"y":-0.12},{"s":"100 ps","x":680,"y":-0.11},{"s":"100 ps","x":686,"y":-0.08},{"s":"100 ps","x":690,"y":-0.06},{"s":"100 ps","x":695,"y":-0.03},{"s":"100 ps","x":700,"y":0},{"s":"100 ps","x":705,"y":0.07},{"s":"100 ps","x":709,"y":0.15},{"s":"100 ps","x":713,"y":0.26},{"s":"100 ps","x":717,"y":0.4},{"s":"100 ps","x":721,"y":0.56},{"s":"100 ps","x":725,"y":0.74},{"s":"100 ps","x":729,"y":0.9},{"s":"100 ps","x":734,"y":1},{"s":"100 ps","x":738,"y":0.96},{"s":"100 ps","x":742,"y":0.87},{"s":"100 ps","x":746,"y":0.73},{"s":"100 ps","x":750,"y":0.57},{"s":"100 ps","x":754,"y":0.41},{"s":"100 ps","x":758,"y":0.26},{"s":"100 ps","x":762,"y":0.15},{"s":"100 ps","x":766,"y":0.07},{"s":"100 ps","x":771,"y":0.02},{"s":"100 ps","x":777,"y":0},{"s":"100 ps","x":781,"y":0},{"s":"100 ps","x":784,"y":0.03},{"s":"100 ps","x":788,"y":0.02},{"s":"100 ps","x":794,"y":0},{"s":"100 ps","x":800,"y":-0.01},
{"s":"1000 ps","x":640,"y":-0.1},{"s":"1000 ps","x":660,"y":-0.11},{"s":"1000 ps","x":675,"y":-0.12},{"s":"1000 ps","x":680,"y":-0.12},{"s":"1000 ps","x":686,"y":-0.1},{"s":"1000 ps","x":690,"y":-0.09},{"s":"1000 ps","x":695,"y":-0.08},{"s":"1000 ps","x":700,"y":-0.05},{"s":"1000 ps","x":704,"y":-0.02},{"s":"1000 ps","x":708,"y":0.03},{"s":"1000 ps","x":712,"y":0.12},{"s":"1000 ps","x":716,"y":0.25},{"s":"1000 ps","x":720,"y":0.4},{"s":"1000 ps","x":724,"y":0.57},{"s":"1000 ps","x":728,"y":0.75},{"s":"1000 ps","x":732,"y":0.9},{"s":"1000 ps","x":737,"y":1},{"s":"1000 ps","x":741,"y":0.96},{"s":"1000 ps","x":745,"y":0.86},{"s":"1000 ps","x":749,"y":0.7},{"s":"1000 ps","x":753,"y":0.52},{"s":"1000 ps","x":757,"y":0.35},{"s":"1000 ps","x":761,"y":0.21},{"s":"1000 ps","x":765,"y":0.11},{"s":"1000 ps","x":769,"y":0.05},{"s":"1000 ps","x":774,"y":0.02},{"s":"1000 ps","x":779,"y":0},{"s":"1000 ps","x":783,"y":0.02},{"s":"1000 ps","x":786,"y":0.04},{"s":"1000 ps","x":790,"y":0.02},{"s":"1000 ps","x":795,"y":0.01},{"s":"1000 ps","x":800,"y":-0.02},
{"s":"1800 ps","x":640,"y":-0.1},{"s":"1800 ps","x":660,"y":-0.11},{"s":"1800 ps","x":675,"y":-0.115},{"s":"1800 ps","x":680,"y":-0.11},{"s":"1800 ps","x":686,"y":-0.095},{"s":"1800 ps","x":690,"y":-0.085},{"s":"1800 ps","x":695,"y":-0.07},{"s":"1800 ps","x":700,"y":-0.05},{"s":"1800 ps","x":704,"y":-0.02},{"s":"1800 ps","x":708,"y":0.03},{"s":"1800 ps","x":712,"y":0.12},{"s":"1800 ps","x":716,"y":0.25},{"s":"1800 ps","x":720,"y":0.4},{"s":"1800 ps","x":724,"y":0.57},{"s":"1800 ps","x":728,"y":0.75},{"s":"1800 ps","x":732,"y":0.9},{"s":"1800 ps","x":737,"y":1},{"s":"1800 ps","x":741,"y":0.97},{"s":"1800 ps","x":745,"y":0.88},{"s":"1800 ps","x":749,"y":0.72},{"s":"1800 ps","x":753,"y":0.54},{"s":"1800 ps","x":757,"y":0.37},{"s":"1800 ps","x":761,"y":0.22},{"s":"1800 ps","x":765,"y":0.12},{"s":"1800 ps","x":769,"y":0.06},{"s":"1800 ps","x":774,"y":0.02},{"s":"1800 ps","x":779,"y":0},{"s":"1800 ps","x":783,"y":0.02},{"s":"1800 ps","x":786,"y":0.03},{"s":"1800 ps","x":790,"y":0.02},{"s":"1800 ps","x":795,"y":0},{"s":"1800 ps","x":800,"y":-0.02}
],
"d2":[
{"s":"0 ps","x":640,"y":-0.05},{"s":"0 ps","x":650,"y":-0.05},{"s":"0 ps","x":660,"y":-0.055},{"s":"0 ps","x":670,"y":-0.06},{"s":"0 ps","x":680,"y":-0.05},{"s":"0 ps","x":685,"y":-0.04},{"s":"0 ps","x":690,"y":-0.01},{"s":"0 ps","x":695,"y":0.02},{"s":"0 ps","x":700,"y":0.03},{"s":"0 ps","x":705,"y":0.05},{"s":"0 ps","x":710,"y":0.07},{"s":"0 ps","x":713,"y":0.1},{"s":"0 ps","x":717,"y":0.17},{"s":"0 ps","x":721,"y":0.26},{"s":"0 ps","x":725,"y":0.37},{"s":"0 ps","x":729,"y":0.5},{"s":"0 ps","x":733,"y":0.63},{"s":"0 ps","x":737,"y":0.77},{"s":"0 ps","x":741,"y":0.89},{"s":"0 ps","x":744,"y":0.97},{"s":"0 ps","x":746,"y":1},{"s":"0 ps","x":749,"y":0.94},{"s":"0 ps","x":752,"y":0.78},{"s":"0 ps","x":755,"y":0.5},{"s":"0 ps","x":758,"y":0.18},{"s":"0 ps","x":760,"y":0},{"s":"0 ps","x":763,"y":-0.18},{"s":"0 ps","x":766,"y":-0.3},{"s":"0 ps","x":769,"y":-0.36},{"s":"0 ps","x":773,"y":-0.33},{"s":"0 ps","x":776,"y":-0.22},{"s":"0 ps","x":780,"y":-0.1},{"s":"0 ps","x":784,"y":-0.08},{"s":"0 ps","x":788,"y":-0.09},{"s":"0 ps","x":792,"y":-0.07},{"s":"0 ps","x":796,"y":-0.08},{"s":"0 ps","x":800,"y":-0.09},
{"s":"0.1 ps","x":640,"y":-0.05},{"s":"0.1 ps","x":660,"y":-0.06},{"s":"0.1 ps","x":670,"y":-0.065},{"s":"0.1 ps","x":680,"y":-0.055},{"s":"0.1 ps","x":690,"y":-0.03},{"s":"0.1 ps","x":695,"y":-0.01},{"s":"0.1 ps","x":700,"y":0.01},{"s":"0.1 ps","x":705,"y":0.03},{"s":"0.1 ps","x":710,"y":0.05},{"s":"0.1 ps","x":714,"y":0.1},{"s":"0.1 ps","x":718,"y":0.18},{"s":"0.1 ps","x":722,"y":0.28},{"s":"0.1 ps","x":726,"y":0.4},{"s":"0.1 ps","x":730,"y":0.53},{"s":"0.1 ps","x":734,"y":0.67},{"s":"0.1 ps","x":738,"y":0.8},{"s":"0.1 ps","x":742,"y":0.92},{"s":"0.1 ps","x":746,"y":1},{"s":"0.1 ps","x":749,"y":0.96},{"s":"0.1 ps","x":752,"y":0.85},{"s":"0.1 ps","x":755,"y":0.68},{"s":"0.1 ps","x":758,"y":0.48},{"s":"0.1 ps","x":761,"y":0.26},{"s":"0.1 ps","x":764,"y":0.06},{"s":"0.1 ps","x":767,"y":-0.08},{"s":"0.1 ps","x":770,"y":-0.14},{"s":"0.1 ps","x":773,"y":-0.15},{"s":"0.1 ps","x":776,"y":-0.12},{"s":"0.1 ps","x":780,"y":-0.05},{"s":"0.1 ps","x":784,"y":-0.03},{"s":"0.1 ps","x":788,"y":-0.04},{"s":"0.1 ps","x":792,"y":-0.04},{"s":"0.1 ps","x":796,"y":-0.05},{"s":"0.1 ps","x":800,"y":-0.05},
{"s":"1 ps","x":640,"y":-0.05},{"s":"1 ps","x":660,"y":-0.065},{"s":"1 ps","x":670,"y":-0.065},{"s":"1 ps","x":680,"y":-0.06},{"s":"1 ps","x":690,"y":-0.04},{"s":"1 ps","x":700,"y":-0.02},{"s":"1 ps","x":705,"y":-0.01},{"s":"1 ps","x":710,"y":0},{"s":"1 ps","x":714,"y":0.04},{"s":"1 ps","x":718,"y":0.12},{"s":"1 ps","x":722,"y":0.22},{"s":"1 ps","x":726,"y":0.34},{"s":"1 ps","x":730,"y":0.47},{"s":"1 ps","x":734,"y":0.61},{"s":"1 ps","x":738,"y":0.75},{"s":"1 ps","x":742,"y":0.88},{"s":"1 ps","x":746,"y":0.97},{"s":"1 ps","x":748,"y":1},{"s":"1 ps","x":751,"y":0.97},{"s":"1 ps","x":755,"y":0.88},{"s":"1 ps","x":759,"y":0.74},{"s":"1 ps","x":763,"y":0.58},{"s":"1 ps","x":767,"y":0.45},{"s":"1 ps","x":771,"y":0.34},{"s":"1 ps","x":775,"y":0.22},{"s":"1 ps","x":779,"y":0.08},{"s":"1 ps","x":782,"y":0},{"s":"1 ps","x":785,"y":0.05},{"s":"1 ps","x":789,"y":0.08},{"s":"1 ps","x":793,"y":0.08},{"s":"1 ps","x":797,"y":0.06},{"s":"1 ps","x":800,"y":0.05},
{"s":"10 ps","x":640,"y":-0.05},{"s":"10 ps","x":660,"y":-0.06},{"s":"10 ps","x":670,"y":-0.065},{"s":"10 ps","x":680,"y":-0.06},{"s":"10 ps","x":690,"y":-0.045},{"s":"10 ps","x":700,"y":-0.025},{"s":"10 ps","x":705,"y":-0.015},{"s":"10 ps","x":710,"y":-0.005},{"s":"10 ps","x":714,"y":0.03},{"s":"10 ps","x":718,"y":0.11},{"s":"10 ps","x":722,"y":0.21},{"s":"10 ps","x":726,"y":0.33},{"s":"10 ps","x":730,"y":0.46},{"s":"10 ps","x":734,"y":0.6},{"s":"10 ps","x":738,"y":0.74},{"s":"10 ps","x":742,"y":0.87},{"s":"10 ps","x":746,"y":0.97},{"s":"10 ps","x":748,"y":1},{"s":"10 ps","x":751,"y":0.97},{"s":"10 ps","x":755,"y":0.88},{"s":"10 ps","x":759,"y":0.75},{"s":"10 ps","x":763,"y":0.6},{"s":"10 ps","x":767,"y":0.47},{"s":"10 ps","x":771,"y":0.36},{"s":"10 ps","x":775,"y":0.24},{"s":"10 ps","x":779,"y":0.1},{"s":"10 ps","x":782,"y":0.01},{"s":"10 ps","x":785,"y":0.06},{"s":"10 ps","x":789,"y":0.09},{"s":"10 ps","x":793,"y":0.09},{"s":"10 ps","x":797,"y":0.07},{"s":"10 ps","x":800,"y":0.06},
{"s":"100 ps","x":640,"y":-0.055},{"s":"100 ps","x":660,"y":-0.065},{"s":"100 ps","x":670,"y":-0.07},{"s":"100 ps","x":680,"y":-0.065},{"s":"100 ps","x":690,"y":-0.05},{"s":"100 ps","x":700,"y":-0.03},{"s":"100 ps","x":710,"y":-0.01},{"s":"100 ps","x":713,"y":-0.01},{"s":"100 ps","x":716,"y":0.04},{"s":"100 ps","x":720,"y":0.13},{"s":"100 ps","x":724,"y":0.25},{"s":"100 ps","x":728,"y":0.38},{"s":"100 ps","x":732,"y":0.52},{"s":"100 ps","x":736,"y":0.67},{"s":"100 ps","x":740,"y":0.81},{"s":"100 ps","x":744,"y":0.93},{"s":"100 ps","x":748,"y":1},{"s":"100 ps","x":751,"y":0.97},{"s":"100 ps","x":755,"y":0.86},{"s":"100 ps","x":759,"y":0.7},{"s":"100 ps","x":763,"y":0.54},{"s":"100 ps","x":767,"y":0.41},{"s":"100 ps","x":771,"y":0.3},{"s":"100 ps","x":775,"y":0.19},{"s":"100 ps","x":779,"y":0.07},{"s":"100 ps","x":782,"y":0},{"s":"100 ps","x":785,"y":0.04},{"s":"100 ps","x":789,"y":0.06},{"s":"100 ps","x":793,"y":0.05},{"s":"100 ps","x":797,"y":0.04},{"s":"100 ps","x":800,"y":0.03},
{"s":"1000 ps","x":640,"y":-0.05},{"s":"1000 ps","x":660,"y":-0.06},{"s":"1000 ps","x":670,"y":-0.065},{"s":"1000 ps","x":680,"y":-0.06},{"s":"1000 ps","x":690,"y":-0.045},{"s":"1000 ps","x":700,"y":-0.025},{"s":"1000 ps","x":710,"y":-0.01},{"s":"1000 ps","x":714,"y":0.02},{"s":"1000 ps","x":718,"y":0.1},{"s":"1000 ps","x":722,"y":0.2},{"s":"1000 ps","x":726,"y":0.32},{"s":"1000 ps","x":730,"y":0.45},{"s":"1000 ps","x":734,"y":0.59},{"s":"1000 ps","x":738,"y":0.73},{"s":"1000 ps","x":742,"y":0.86},{"s":"1000 ps","x":746,"y":0.96},{"s":"1000 ps","x":748,"y":1},{"s":"1000 ps","x":751,"y":0.96},{"s":"1000 ps","x":755,"y":0.84},{"s":"1000 ps","x":759,"y":0.67},{"s":"1000 ps","x":763,"y":0.49},{"s":"1000 ps","x":767,"y":0.35},{"s":"1000 ps","x":771,"y":0.23},{"s":"1000 ps","x":775,"y":0.13},{"s":"1000 ps","x":779,"y":0.04},{"s":"1000 ps","x":782,"y":0},{"s":"1000 ps","x":786,"y":0.01},{"s":"1000 ps","x":790,"y":0.03},{"s":"1000 ps","x":795,"y":0.03},{"s":"1000 ps","x":800,"y":0.01},
{"s":"1800 ps","x":640,"y":-0.05},{"s":"1800 ps","x":660,"y":-0.065},{"s":"1800 ps","x":670,"y":-0.07},{"s":"1800 ps","x":680,"y":-0.065},{"s":"1800 ps","x":690,"y":-0.05},{"s":"1800 ps","x":700,"y":-0.03},{"s":"1800 ps","x":710,"y":-0.01},{"s":"1800 ps","x":714,"y":0.02},{"s":"1800 ps","x":718,"y":0.1},{"s":"1800 ps","x":722,"y":0.2},{"s":"1800 ps","x":726,"y":0.32},{"s":"1800 ps","x":730,"y":0.45},{"s":"1800 ps","x":734,"y":0.59},{"s":"1800 ps","x":738,"y":0.73},{"s":"1800 ps","x":742,"y":0.86},{"s":"1800 ps","x":746,"y":0.96},{"s":"1800 ps","x":748,"y":1},{"s":"1800 ps","x":751,"y":0.96},{"s":"1800 ps","x":755,"y":0.84},{"s":"1800 ps","x":759,"y":0.67},{"s":"1800 ps","x":763,"y":0.49},{"s":"1800 ps","x":767,"y":0.35},{"s":"1800 ps","x":771,"y":0.23},{"s":"1800 ps","x":775,"y":0.13},{"s":"1800 ps","x":779,"y":0.04},{"s":"1800 ps","x":782,"y":0},{"s":"1800 ps","x":786,"y":0.02},{"s":"1800 ps","x":790,"y":0.04},{"s":"1800 ps","x":795,"y":0.03},{"s":"1800 ps","x":800,"y":0.02}
]
},
"columns":4,
"spacing":{"row":82,"column":66},
"bounds":"flush",
"resolve":{"scale":{"color":"independent"}},
"concat":[
{"width":244,"height":192,
 "layer":[
  {"data":{"name":"a1"},"mark":"line","encoding":{
   "x":{"field":"x","type":"quantitative","title":"Wavelength (nm)","scale":{"domain":[600,900],"nice":false,"zero":false},"axis":{"values":[600,650,700,750,800,850,900],"tickCount":20,"labelOverlap":false}},
   "y":{"field":"y","type":"quantitative","title":"PL counts (norm.)","scale":{"domain":[-0.1,1.1],"nice":false,"zero":false},"axis":{"values":[0,0.2,0.4,0.6,0.8,1],"tickCount":20,"labelExpr":"format(datum.value, '.1f')","labelOverlap":false}},
   "color":{"field":"s","type":"nominal","sort":null,"scale":{"domain":["0 ns","2 ns","10 ns","50 ns","100 ns"],"range":["#000000","#ee1c24","#f59a23","#ff00ff","#1a1aff"]},"legend":{"title":null,"legendX":166,"legendY":8,"symbolSize":400,"labelFontSize":16.5,"rowPadding":1.6}}}},
  {"data":{"values":[{}]},"mark":{"type":"text","text":"Control - PMMA side","fontSize":16.5,"fontWeight":"bold","align":"center","baseline":"middle"},"encoding":{"x":{"datum":767,"scale":{"domain":[600,900],"nice":false,"zero":false}},"y":{"datum":1.1875,"scale":{"domain":[-0.1,1.1],"nice":false,"zero":false}}}},
  {"data":{"values":[{}]},"mark":{"type":"text","text":"A","fontSize":23,"align":"left","baseline":"alphabetic"},"encoding":{"x":{"datum":538,"scale":{"domain":[600,900],"nice":false,"zero":false}},"y":{"datum":1.1375,"scale":{"domain":[-0.1,1.1],"nice":false,"zero":false}}}}
 ]},
{"width":244,"height":192,
 "layer":[
  {"data":{"name":"a2"},"mark":"line","encoding":{
   "x":{"field":"x","type":"quantitative","title":"Wavelength (nm)","scale":{"domain":[600,900],"nice":false,"zero":false},"axis":{"values":[600,650,700,750,800,850,900],"tickCount":20,"labelOverlap":false}},
   "y":{"field":"y","type":"quantitative","title":"PL counts (norm.)","scale":{"domain":[-0.1,1.1],"nice":false,"zero":false},"axis":{"values":[0,0.2,0.4,0.6,0.8,1],"tickCount":20,"labelExpr":"format(datum.value, '.1f')","labelOverlap":false}},
   "color":{"field":"s","type":"nominal","sort":null,"scale":{"domain":["0 ns","2 ns","10 ns","50 ns","100 ns"],"range":["#000000","#ee1c24","#f59a23","#ff00ff","#1a1aff"]},"legend":{"title":null,"legendX":160,"legendY":7,"symbolSize":400,"labelFontSize":16.5,"rowPadding":3}}}},
  {"data":{"values":[{}]},"mark":{"type":"text","text":"Control - Glass side","fontSize":16.5,"fontWeight":"bold","align":"center","baseline":"middle"},"encoding":{"x":{"datum":763.5,"scale":{"domain":[600,900],"nice":false,"zero":false}},"y":{"datum":1.1875,"scale":{"domain":[-0.1,1.1],"nice":false,"zero":false}}}}
 ]},
{"width":244,"height":192,
 "layer":[
  {"data":{"name":"b1"},"mark":"line","encoding":{
   "x":{"field":"x","type":"quantitative","title":"Probe wavelength (nm)","scale":{"domain":[640,800],"nice":false,"zero":false},"axis":{"values":[650,700,750,800],"tickCount":20,"labelOverlap":false}},
   "y":{"field":"y","type":"quantitative","title":"ΔT/T (norm.)","scale":{"domain":[-0.3,1.1],"nice":false,"zero":false},"axis":{"values":[-0.3,0,0.3,0.6,0.9],"tickCount":20,"labelExpr":"datum.value < 0 ? '-' + format(-datum.value, '.1f') : format(datum.value, '.1f')","labelOverlap":false}},
   "color":{"field":"s","type":"nominal","sort":null,"scale":{"domain":["0 ps","0.1 ps","1 ps","10 ps","100 ps","1000 ps","1800 ps"],"range":["#2020c8","#2e5f7f","#3aa8e0","#27b2ef","#4db8e4","#e8206e","#f08a28"]},"legend":{"title":null,"legendX":16,"legendY":3,"symbolSize":324,"labelFontSize":15,"rowPadding":2}}}},
  {"data":{"values":[{}]},"mark":{"type":"rule","color":"#000","strokeWidth":1.5},"encoding":{"y":{"datum":0,"scale":{"domain":[-0.3,1.1],"nice":false,"zero":false}}}},
  {"data":{"values":[{}]},"mark":{"type":"text","text":"Control - PMMA side","fontSize":16.5,"fontWeight":"bold","align":"center","baseline":"middle"},"encoding":{"x":{"datum":728,"scale":{"domain":[640,800],"nice":false,"zero":false}},"y":{"datum":1.202,"scale":{"domain":[-0.3,1.1],"nice":false,"zero":false}}}},
  {"data":{"values":[{}]},"mark":{"type":"text","text":"B","fontSize":23,"align":"left","baseline":"alphabetic"},"encoding":{"x":{"datum":612,"scale":{"domain":[640,800],"nice":false,"zero":false}},"y":{"datum":1.151,"scale":{"domain":[-0.3,1.1],"nice":false,"zero":false}}}}
 ]},
{"width":244,"height":192,
 "layer":[
  {"data":{"name":"b2"},"mark":"line","encoding":{
   "x":{"field":"x","type":"quantitative","title":"Probe wavelength (nm)","scale":{"domain":[640,800],"nice":false,"zero":false},"axis":{"values":[650,700,750,800],"tickCount":20,"labelOverlap":false}},
   "y":{"field":"y","type":"quantitative","title":"ΔT/T (norm.)","scale":{"domain":[-0.3,1.1],"nice":false,"zero":false},"axis":{"values":[-0.3,0,0.3,0.6,0.9],"tickCount":20,"labelExpr":"datum.value < 0 ? '-' + format(-datum.value, '.1f') : format(datum.value, '.1f')","labelOverlap":false}},
   "color":{"field":"s","type":"nominal","sort":null,"scale":{"domain":["0 ps","0.1 ps","1 ps","10 ps","100 ps","1000 ps","1800 ps"],"range":["#2424c0","#3a6a80","#2a8aa0","#30a8e0","#40b8e8","#e82a80","#f0942a"]},"legend":{"title":null,"legendX":18,"legendY":-3,"symbolSize":324,"labelFontSize":15,"rowPadding":2.4}}}},
  {"data":{"values":[{}]},"mark":{"type":"rule","color":"#000","strokeWidth":1.5},"encoding":{"y":{"datum":0,"scale":{"domain":[-0.3,1.1],"nice":false,"zero":false}}}},
  {"data":{"values":[{}]},"mark":{"type":"text","text":"Control - Glass side","fontSize":16.5,"fontWeight":"bold","align":"center","baseline":"middle"},"encoding":{"x":{"datum":724.6,"scale":{"domain":[640,800],"nice":false,"zero":false}},"y":{"datum":1.202,"scale":{"domain":[-0.3,1.1],"nice":false,"zero":false}}}}
 ]},
{"width":244,"height":192,
 "layer":[
  {"data":{"name":"c1"},"mark":"line","encoding":{
   "x":{"field":"x","type":"quantitative","title":"Wavelength (nm)","scale":{"domain":[600,900],"nice":false,"zero":false},"axis":{"values":[600,650,700,750,800,850,900],"tickCount":20,"labelOverlap":false}},
   "y":{"field":"y","type":"quantitative","title":"PL counts (norm.)","scale":{"domain":[-0.1,1.1],"nice":false,"zero":false},"axis":{"values":[0,0.2,0.4,0.6,0.8,1],"tickCount":20,"labelExpr":"format(datum.value, '.1f')","labelOverlap":false}},
   "color":{"field":"s","type":"nominal","sort":null,"scale":{"domain":["0 ns","2 ns","10 ns","50 ns","100 ns"],"range":["#000000","#ee1c24","#f59a23","#ff00ff","#1a1aff"]},"legend":{"title":null,"legendX":161,"legendY":9,"symbolSize":400,"labelFontSize":16.5,"rowPadding":3.5}}}},
  {"data":{"values":[{}]},"mark":{"type":"rule","color":"#ee1c24","strokeWidth":2},"encoding":{"x":{"datum":736,"scale":{"domain":[600,900],"nice":false,"zero":false}},"x2":{"datum":759},"y":{"datum":1.042,"scale":{"domain":[-0.1,1.1],"nice":false,"zero":false}}}},
  {"data":{"values":[{}]},"mark":{"type":"point","shape":"triangle-right","filled":true,"opacity":1,"color":"#ee1c24","size":45},"encoding":{"x":{"datum":762,"scale":{"domain":[600,900],"nice":false,"zero":false}},"y":{"datum":1.042,"scale":{"domain":[-0.1,1.1],"nice":false,"zero":false}}}},
  {"data":{"values":[{}]},"mark":{"type":"text","text":"SSG-G - PMMA side","fontSize":16.5,"fontWeight":"bold","align":"center","baseline":"middle"},"encoding":{"x":{"datum":750,"scale":{"domain":[600,900],"nice":false,"zero":false}},"y":{"datum":1.169,"scale":{"domain":[-0.1,1.1],"nice":false,"zero":false}}}},
  {"data":{"values":[{}]},"mark":{"type":"text","text":"C","fontSize":23,"align":"left","baseline":"alphabetic"},"encoding":{"x":{"datum":538,"scale":{"domain":[600,900],"nice":false,"zero":false}},"y":{"datum":1.15,"scale":{"domain":[-0.1,1.1],"nice":false,"zero":false}}}}
 ]},
{"width":244,"height":192,
 "layer":[
  {"data":{"name":"c2"},"mark":"line","encoding":{
   "x":{"field":"x","type":"quantitative","title":"Wavelength (nm)","scale":{"domain":[600,900],"nice":false,"zero":false},"axis":{"values":[600,650,700,750,800,850,900],"tickCount":20,"labelOverlap":false}},
   "y":{"field":"y","type":"quantitative","title":"PL Counts (norm.)","scale":{"domain":[-0.1,1.1],"nice":false,"zero":false},"axis":{"values":[0,0.2,0.4,0.6,0.8,1],"tickCount":20,"labelExpr":"format(datum.value, '.1f')","labelOverlap":false}},
   "color":{"field":"s","type":"nominal","sort":null,"scale":{"domain":["0 ns","2 ns","10 ns","50 ns","100 ns"],"range":["#000000","#ee1c24","#f59a23","#ff00ff","#1a1aff"]},"legend":{"title":null,"legendX":160,"legendY":8,"symbolSize":400,"labelFontSize":16.5,"rowPadding":2}}}},
  {"data":{"values":[{}]},"mark":{"type":"text","text":"SSG-G - Glass side","fontSize":16.5,"fontWeight":"bold","align":"center","baseline":"middle"},"encoding":{"x":{"datum":763.5,"scale":{"domain":[600,900],"nice":false,"zero":false}},"y":{"datum":1.179,"scale":{"domain":[-0.1,1.1],"nice":false,"zero":false}}}}
 ]},
{"width":244,"height":192,
 "layer":[
  {"data":{"name":"d1"},"mark":"line","encoding":{
   "x":{"field":"x","type":"quantitative","title":"Probe wavelength (nm)","scale":{"domain":[640,800],"nice":false,"zero":false},"axis":{"values":[650,700,750,800],"tickCount":20,"labelOverlap":false}},
   "y":{"field":"y","type":"quantitative","title":"ΔT/T (norm.)","scale":{"domain":[-0.3,1.1],"nice":false,"zero":false},"axis":{"values":[-0.3,0,0.3,0.6,0.9],"tickCount":20,"labelExpr":"datum.value < 0 ? '-' + format(-datum.value, '.1f') : format(datum.value, '.1f')","labelOverlap":false}},
   "color":{"field":"s","type":"nominal","sort":null,"scale":{"domain":["0 ps","0.1 ps","1 ps","10 ps","100 ps","1000 ps","1800 ps"],"range":["#1a1ab8","#2a6a90","#2a90d8","#2a98d0","#60c8f0","#d81e6e","#f08828"]},"legend":{"title":null,"legendX":7,"legendY":0,"symbolSize":324,"labelFontSize":15,"rowPadding":2}}}},
  {"data":{"values":[{}]},"mark":{"type":"rule","color":"#000","strokeWidth":1.5},"encoding":{"y":{"datum":0,"scale":{"domain":[-0.3,1.1],"nice":false,"zero":false}}}},
  {"data":{"values":[{}]},"mark":{"type":"rule","color":"#f08828","strokeWidth":2},"encoding":{"x":{"datum":727,"scale":{"domain":[640,800],"nice":false,"zero":false}},"x2":{"datum":742},"y":{"datum":1.03,"scale":{"domain":[-0.3,1.1],"nice":false,"zero":false}}}},
  {"data":{"values":[{}]},"mark":{"type":"point","shape":"triangle-right","filled":true,"opacity":1,"color":"#f08828","size":45},"encoding":{"x":{"datum":744,"scale":{"domain":[640,800],"nice":false,"zero":false}},"y":{"datum":1.03,"scale":{"domain":[-0.3,1.1],"nice":false,"zero":false}}}},
  {"data":{"values":[{}]},"mark":{"type":"text","text":"SSG-G - PMMA side","fontSize":16.5,"fontWeight":"bold","align":"center","baseline":"middle"},"encoding":{"x":{"datum":731,"scale":{"domain":[640,800],"nice":false,"zero":false}},"y":{"datum":1.18,"scale":{"domain":[-0.3,1.1],"nice":false,"zero":false}}}},
  {"data":{"values":[{}]},"mark":{"type":"text","text":"D","fontSize":23,"align":"left","baseline":"alphabetic"},"encoding":{"x":{"datum":612,"scale":{"domain":[640,800],"nice":false,"zero":false}},"y":{"datum":1.158,"scale":{"domain":[-0.3,1.1],"nice":false,"zero":false}}}}
 ]},
{"width":244,"height":192,
 "layer":[
  {"data":{"name":"d2"},"mark":"line","encoding":{
   "x":{"field":"x","type":"quantitative","title":"Probe wavelength (nm)","scale":{"domain":[640,800],"nice":false,"zero":false},"axis":{"values":[650,700,750,800],"tickCount":20,"labelOverlap":false}},
   "y":{"field":"y","type":"quantitative","title":"ΔT/T (norm.)","scale":{"domain":[-0.3,1.1],"nice":false,"zero":false},"axis":{"values":[-0.3,0,0.3,0.6,0.9],"tickCount":20,"labelExpr":"datum.value < 0 ? '-' + format(-datum.value, '.1f') : format(datum.value, '.1f')","labelOverlap":false}},
   "color":{"field":"s","type":"nominal","sort":null,"scale":{"domain":["0 ps","0.1 ps","1 ps","10 ps","100 ps","1000 ps","1800 ps"],"range":["#2424c8","#3a6888","#28a898","#28a0a0","#30d8d8","#e02878","#f09028"]},"legend":{"title":null,"legendX":17,"legendY":-0.5,"symbolSize":324,"labelFontSize":15,"rowPadding":0.5}}}},
  {"data":{"values":[{}]},"mark":{"type":"rule","color":"#000","strokeWidth":1.5},"encoding":{"y":{"datum":0,"scale":{"domain":[-0.3,1.1],"nice":false,"zero":false}}}},
  {"data":{"values":[{}]},"mark":{"type":"text","text":"SSG-G - Glass side","fontSize":16.5,"fontWeight":"bold","align":"center","baseline":"middle"},"encoding":{"x":{"datum":723.3,"scale":{"domain":[640,800],"nice":false,"zero":false}},"y":{"datum":1.18,"scale":{"domain":[-0.3,1.1],"nice":false,"zero":false}}}}
 ]}
]
}
